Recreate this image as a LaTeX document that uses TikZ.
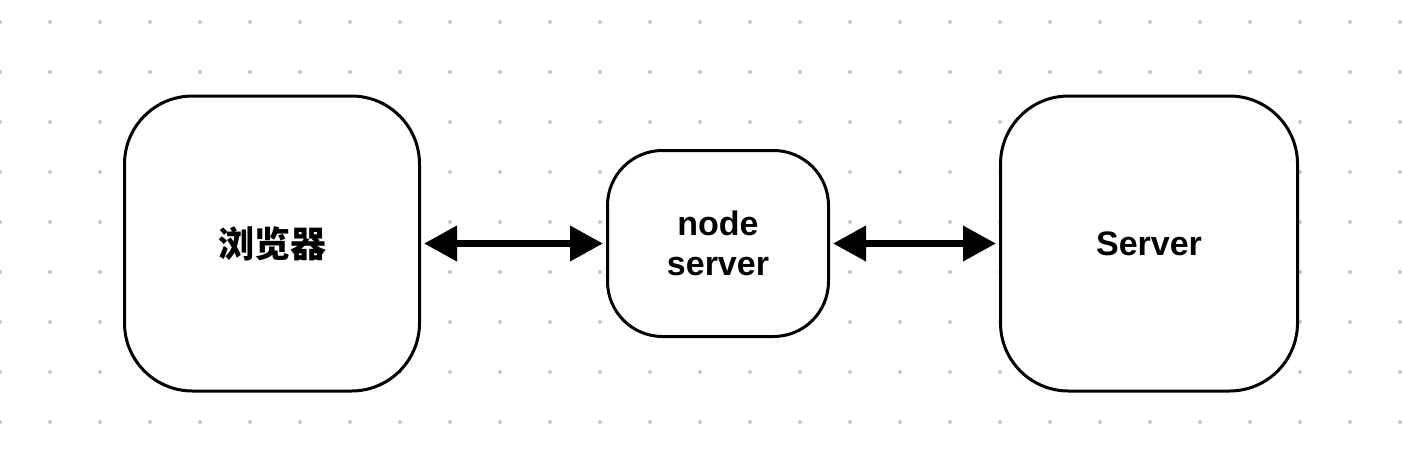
\documentclass[tikz,border=0pt]{standalone}
\usepackage{fontspec}
\setmainfont{Liberation Sans}
\newfontfamily\cjk{Noto Sans CJK SC}
\usetikzlibrary{arrows.meta}

\begin{document}
\begin{tikzpicture}
  [x=1pt,y=-1pt,
   every node/.style={draw,line width=3pt,fill=white,rounded corners=68pt,
     inner sep=0pt,align=center,font=\fontsize{34}{40}\selectfont\bfseries},
   link/.style={line width=7pt,{Triangle[length=33pt,width=34pt]}-{Triangle[length=33pt,width=34pt]},
     shorten <=3pt,shorten >=3pt}]
  \useasboundingbox (0,0) rectangle (1402,456);
  \fill[white] (0,0) rectangle (1402,456);
  % dotted background
  \foreach \x in {0,50,...,1400}
    \foreach \y in {22,72,...,422}
      \fill[black!22] (\x,\y) circle (2pt);

  \node[minimum width=295pt,minimum height=295pt] (browser) at (272,243.5) {\cjk\fontsize{36}{40}\selectfont\bfseries 浏览器};
  \node[minimum width=221pt,minimum height=186pt,rounded corners=55pt] (proxy) at (718,243.5) {node\\server};
  \node[minimum width=297pt,minimum height=295pt] (server) at (1149,243.5) {Server};

  \foreach \from/\to in {browser/proxy,proxy/server}
    \draw[link] (\from) -- (\to);
\end{tikzpicture}
\end{document}
